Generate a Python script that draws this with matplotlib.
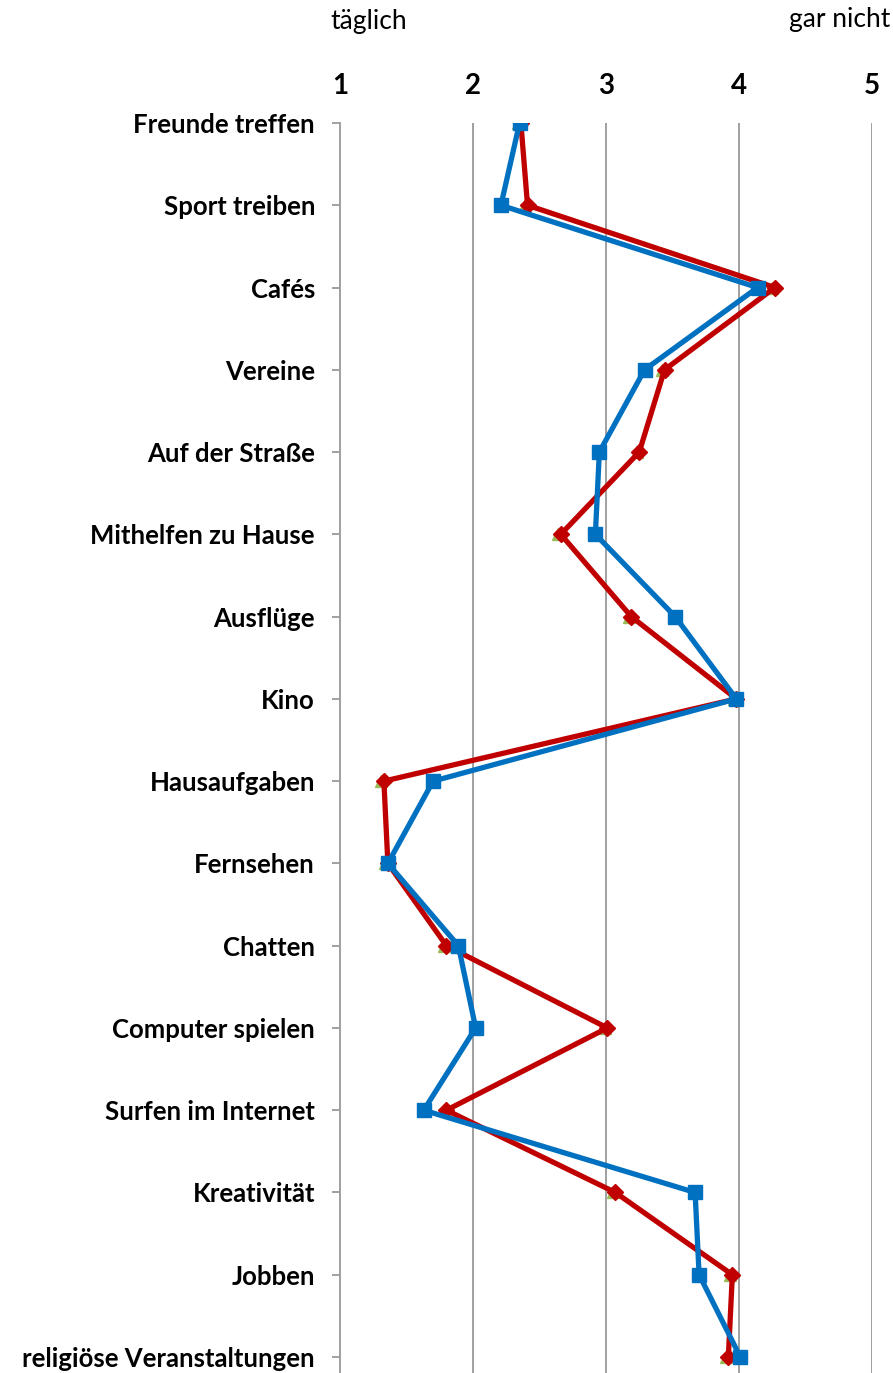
import matplotlib
matplotlib.use("Agg")
import matplotlib.pyplot as plt

plt.rcParams['font.family'] = ['Lato', 'DejaVu Sans']

categories = [
    "Freunde treffen", "Sport treiben", "Cafés", "Vereine", "Auf der Straße",
    "Mithelfen zu Hause", "Ausflüge", "Kino", "Hausaufgaben", "Fernsehen",
    "Chatten", "Computer spielen", "Surfen im Internet", "Kreativität",
    "Jobben", "religiöse Veranstaltungen",
]
series_blue = [2.35, 2.21, 4.14, 3.29, 2.95, 2.92, 3.52, 3.98,
               1.70, 1.36, 1.89, 2.02, 1.63, 3.67, 3.70, 4.01]
series_red = [2.36, 2.41, 4.27, 3.44, 3.25, 2.66, 3.19, 3.98,
              1.33, 1.36, 1.80, 3.01, 1.80, 3.07, 3.95, 3.92]
series_green = [2.34, 2.39, 4.25, 3.42, 3.23, 2.64, 3.17, 3.96,
                1.31, 1.34, 1.78, 2.99, 1.78, 3.05, 3.93, 3.90]
x_ticks = [1, 2, 3, 4, 5]

W, H = 893, 1373
fig = plt.figure(figsize=(W / 100, H / 100), dpi=100)
left, right = 340 / W, 872 / W
top_px, bot_px = 123, 1382
ax = fig.add_axes([left, 1 - bot_px / H, right - left, (bot_px - top_px) / H])

y = list(range(len(categories)))
ax.plot(series_green, y, color="#9BBB59", lw=0, marker="^", ms=8.5, zorder=2)
ax.plot(series_red, y, color="#C00000", lw=3.8, marker="D", ms=8.5, zorder=3)
ax.plot(series_blue, y, color="#0070C0", lw=3.8, marker="s", ms=10.5, zorder=4)

n = len(categories)
ax.set_ylim((bot_px - top_px) / ((1357 - 123) / (n - 1)), 0)
ax.set_xlim(1, 5)
ax.set_yticks(y)
ax.set_yticklabels(categories, fontsize=18.5, fontweight="bold")
ax.tick_params(axis="y", length=6, width=1.2, color="#909090", pad=12)

ax.xaxis.tick_top()
ax.set_xticks(x_ticks)
ax.set_xticklabels([str(t) for t in x_ticks], fontsize=20, fontweight="bold")
ax.tick_params(axis="x", length=0, pad=17)

for v in x_ticks[1:]:
    ax.axvline(v, color="#A0A0A0", lw=1.4, zorder=1)

for s in ["top", "right", "bottom"]:
    ax.spines[s].set_visible(False)
ax.spines["left"].set_color("#A0A0A0")
ax.spines["left"].set_linewidth(1.4)

fig.text(330 / W, 1 - 22 / H, "täglich", fontsize=19, ha="left", va="center")
fig.text(890 / W, 1 - 20 / H, "gar nicht", fontsize=19, ha="right", va="center")

fig.savefig("out.png", dpi=100)
